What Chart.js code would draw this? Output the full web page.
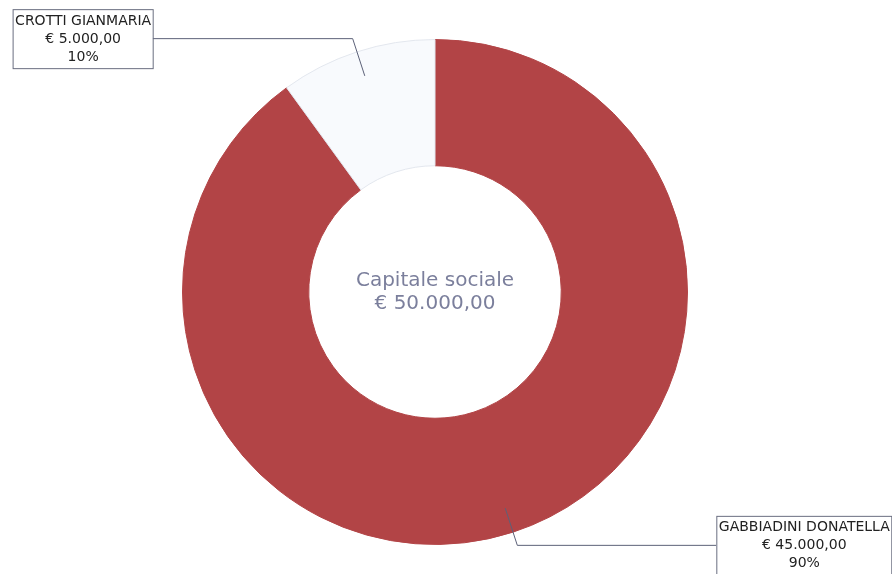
<!DOCTYPE html>
<html>
<head>
<meta charset="utf-8">
<script src="https://cdn.jsdelivr.net/npm/chart.js@4/dist/chart.umd.min.js"></script>
<style>
  html, body { margin: 0; padding: 0; background: #fff; }
  #wrap { width: 892px; height: 574px; position: relative; }
</style>
</head>
<body>
<div id="wrap"><canvas id="c"></canvas></div>
<script>
const soci = ['GABBIADINI DONATELLA', 'CROTTI GIANMARIA']
const quote = [45000, 5000]
const percentuali = ['90%', '10%']
const colori = ['#b24446', '#f8fafd']
const bordi = ['#b24446', '#e3e7ee']
const titoloCentro = ['Capitale sociale', '€ 50.000,00']

function euro(v){
  return '€ ' + v.toLocaleString('it-IT', {minimumFractionDigits: 2, maximumFractionDigits: 2})
}

// testo al centro della ciambella
const centerText = {
  id: 'centerText',
  afterDraw(chart){
    const arc = chart.getDatasetMeta(0).data[0]
    const ctx = chart.ctx
    ctx.save()
    ctx.font = '20px "DejaVu Sans", sans-serif'
    ctx.fillStyle = '#7b7f9c'
    ctx.textAlign = 'center'
    ctx.textBaseline = 'middle'
    ctx.fillText(titoloCentro[0], arc.x, arc.y - 11)
    ctx.fillText(titoloCentro[1], arc.x, arc.y + 12)
    ctx.restore()
  }
}

// etichette con linea di richiamo
const leaderLabels = {
  id: 'leaderLabels',
  afterDraw(chart){
    const ctx = chart.ctx
    const meta = chart.getDatasetMeta(0)
    meta.data.forEach((arc, i) => {
      const mid = (arc.startAngle + arc.endAngle) / 2
      const r1 = arc.outerRadius * 0.9
      const r2 = arc.outerRadius * 1.055
      const p1 = {x: arc.x + Math.cos(mid) * r1, y: arc.y + Math.sin(mid) * r1}
      const p2 = {x: arc.x + Math.cos(mid) * r2, y: arc.y + Math.sin(mid) * r2}
      const right = Math.cos(mid) >= 0
      const p3 = {x: p2.x + (right ? 199 : -200), y: p2.y}

      ctx.save()
      ctx.strokeStyle = '#5c6178'
      ctx.lineWidth = 1
      ctx.beginPath()
      ctx.moveTo(p1.x, p1.y)
      ctx.lineTo(p2.x, p2.y)
      ctx.lineTo(p3.x, p3.y)
      ctx.stroke()

      const lines = [soci[i], euro(quote[i]), percentuali[i]]
      ctx.font = '14px "DejaVu Sans", sans-serif'
      const w = Math.max(...lines.map(t => ctx.measureText(t).width)) + 4
      const h = 59
      const bx = right ? p3.x : p3.x - w
      const by = p3.y - h / 2
      ctx.fillStyle = '#fff'
      ctx.fillRect(bx, by, w, h)
      ctx.strokeStyle = '#6a6e80'
      ctx.strokeRect(bx + 0.5, by + 0.5, w, h)
      ctx.fillStyle = '#222'
      ctx.textAlign = 'center'
      ctx.textBaseline = 'middle'
      lines.forEach((t, k) => ctx.fillText(t, bx + w / 2 + 0.5, by + 12 + k * 18))
      ctx.restore()
    })
  }
}

const config = {
  type: 'doughnut',
  data: {
    labels: soci,
    datasets: [{
      data: quote,
      backgroundColor: colori,
      borderColor: bordi,
      borderWidth: 1
    }]
  },
  options: {
    responsive: true,
    maintainAspectRatio: false,
    animation: false,
    cutout: '50%',
    layout: {padding: {top: 39, bottom: 29, left: 0, right: 22}},
    plugins: {
      legend: {display: false},
      tooltip: {enabled: false}
    }
  },
  plugins: [centerText, leaderLabels]
}

new Chart(document.getElementById('c'), config)
</script>
</body>
</html>
